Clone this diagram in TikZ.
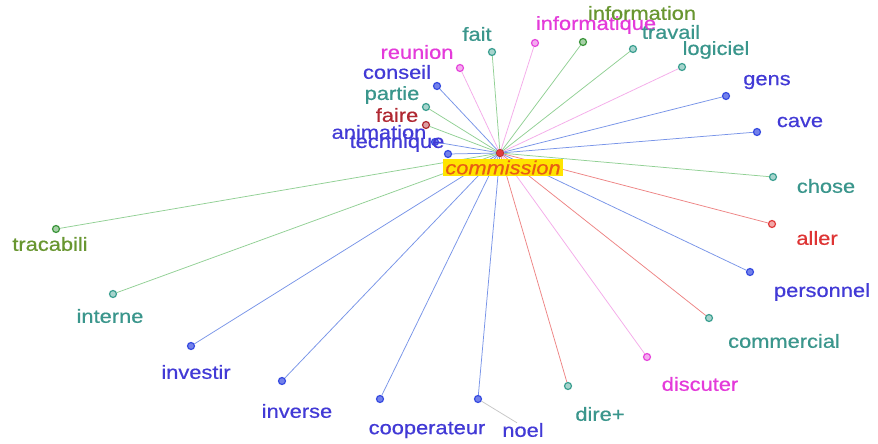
\documentclass[tikz,border=0pt]{standalone}
\usepackage{fontspec}
\setmainfont[FakeStretch=1.15,FakeBold=0.6]{Liberation Sans}
\usetikzlibrary{backgrounds}
\definecolor{tB}{RGB}{66,58,214}
\definecolor{tT}{RGB}{58,150,140}
\definecolor{tM}{RGB}{228,58,218}
\definecolor{tG}{RGB}{104,150,48}
\definecolor{tR}{RGB}{222,52,52}
\definecolor{tDR}{RGB}{176,40,50}
\definecolor{dB}{RGB}{55,75,225}
\definecolor{dT}{RGB}{60,160,145}
\definecolor{dM}{RGB}{230,70,220}
\definecolor{dG}{RGB}{60,150,60}
\definecolor{dR}{RGB}{225,60,60}
\definecolor{lB}{RGB}{120,148,232}
\definecolor{lG}{RGB}{145,208,148}
\definecolor{lP}{RGB}{245,172,234}
\definecolor{lR}{RGB}{238,132,132}
\definecolor{hubY}{RGB}{255,228,0}
\definecolor{hubO}{RGB}{232,92,20}
\begin{document}
\begin{tikzpicture}[x=1pt,y=-1pt,
  pt/.style={circle,inner sep=0pt,minimum size=7pt,line width=1.2pt,draw=#1,fill=#1!45!white},
  ptb/.style={pt=#1,fill=#1!70!white},
  lbl/.style={font=\fontsize{19}{21}\selectfont,text=#1,inner sep=0pt},
  ln/.style={draw=#1,line width=0.75pt}]
\useasboundingbox (0,0) rectangle (878,444);

% hub
\node[circle,inner sep=0pt,minimum size=7.5pt,fill=dR,draw=dR!80!black,line width=0.6pt] (c) at (500,153) {};
\node[fill=hubY,inner sep=0pt,minimum width=120pt,minimum height=17pt,
      font=\fontsize{19}{21}\selectfont\itshape,text=hubO] (hub) at (503,167.5) {commission};

% leaf dots
\node[pt=dT] (fait) at (492,52) {};
\node[pt=dM] (informatique) at (535,43) {};
\node[pt=dG] (information) at (583,42) {};
\node[pt=dT] (travail) at (633,49) {};
\node[pt=dT] (logiciel) at (682,67) {};
\node[ptb=dB] (gens) at (726,96) {};
\node[ptb=dB] (cave) at (757,132) {};
\node[pt=dT] (chose) at (773,177) {};
\node[pt=dR] (aller) at (772,224) {};
\node[ptb=dB] (personnel) at (750,272) {};
\node[pt=dT] (commercial) at (709,318) {};
\node[pt=dM] (discuter) at (647,357) {};
\node[pt=dT] (dire) at (568,386) {};
\node[ptb=dB] (noel) at (478,399) {};
\node[ptb=dB] (cooperateur) at (380,399) {};
\node[ptb=dB] (inverse) at (282,381) {};
\node[ptb=dB] (investir) at (191,346) {};
\node[pt=dT] (interne) at (113,294) {};
\node[pt=dG] (tracabili) at (56,229) {};
\node[ptb=dB] (technique) at (448,154) {};
\node[ptb=dB] (animation) at (435,142) {};
\node[pt=tDR] (faire) at (426,125) {};
\node[pt=dT] (partie) at (426,107) {};
\node[ptb=dB] (conseil) at (437,86) {};
\node[pt=dM] (reunion) at (460,68) {};

% labels
\node[lbl=tT] (lfait) at (477,34) {fait};
\node[lbl=tM] (linformatique) at (596,25) {informatique};
\node[lbl=tG] (linformation) at (642,13) {information};
\node[lbl=tT] (ltravail) at (671,32) {travail};
\node[lbl=tT] (llogiciel) at (716,50) {logiciel};
\node[lbl=tB] (lgens) at (767,82) {gens};
\node[lbl=tB] (lcave) at (800,122) {cave};
\node[lbl=tT] (lchose) at (826,186) {chose};
\node[lbl=tR] (laller) at (817,238) {aller};
\node[lbl=tB] (lpersonnel) at (822,292) {personnel};
\node[lbl=tT] (lcommercial) at (784,341) {commercial};
\node[lbl=tM] (ldiscuter) at (700,384) {discuter};
\node[lbl=tT] (ldire) at (600,414) {dire+};
\node[lbl=tB] (lnoel) at (523,430) {noel};
\node[lbl=tB] (lcooperateur) at (427,430) {cooperateur};
\node[lbl=tB] (linverse) at (297,411) {inverse};
\node[lbl=tB] (linvestir) at (196,372) {investir};
\node[lbl=tT] (linterne) at (110,316) {interne};
\node[lbl=tG] (ltracabili) at (50,244) {tracabili};
\node[lbl=tB] (ltechnique) at (397,143) {technique};
\node[lbl=tB] (lanimation) at (379,132) {animation};
\node[lbl=tDR] (lfaire) at (397,115) {faire};
\node[lbl=tT] (lpartie) at (392,95) {partie};
\node[lbl=tB] (lconseil) at (397,72) {conseil};
\node[lbl=tM] (lreunion) at (417,52) {reunion};

% connectors
\begin{scope}[on background layer]
\fill[white] (0,0) rectangle (878,444);
\draw[ln=lG] (c.center) -- (fait);
\draw[ln=lP] (c.center) -- (informatique);
\draw[ln=lG] (c.center) -- (information);
\draw[ln=lG] (c.center) -- (travail);
\draw[ln=lP] (c.center) -- (logiciel);
\draw[ln=lB] (c.center) -- (gens);
\draw[ln=lB] (c.center) -- (cave);
\draw[ln=lG] (c.center) -- (chose);
\draw[ln=lR] (c.center) -- (aller);
\draw[ln=lB] (c.center) -- (personnel);
\draw[ln=lR] (c.center) -- (commercial);
\draw[ln=lP] (c.center) -- (discuter);
\draw[ln=lR] (c.center) -- (dire);
\draw[ln=lB] (c.center) -- (noel);
\draw[ln=lB] (c.center) -- (cooperateur);
\draw[ln=lB] (c.center) -- (inverse);
\draw[ln=lB] (c.center) -- (investir);
\draw[ln=lG] (c.center) -- (interne);
\draw[ln=lG] (c.center) -- (tracabili);
\draw[ln=lB] (c.center) -- (technique);
\draw[ln=lB] (c.center) -- (animation);
\draw[ln=lG] (c.center) -- (faire);
\draw[ln=lG] (c.center) -- (partie);
\draw[ln=lB] (c.center) -- (conseil);
\draw[ln=lP] (c.center) -- (reunion);
\draw[draw=black!22,line width=0.75pt] (noel) -- ([xshift=-6pt]lnoel.north);
\end{scope}
\end{tikzpicture}
\end{document}
